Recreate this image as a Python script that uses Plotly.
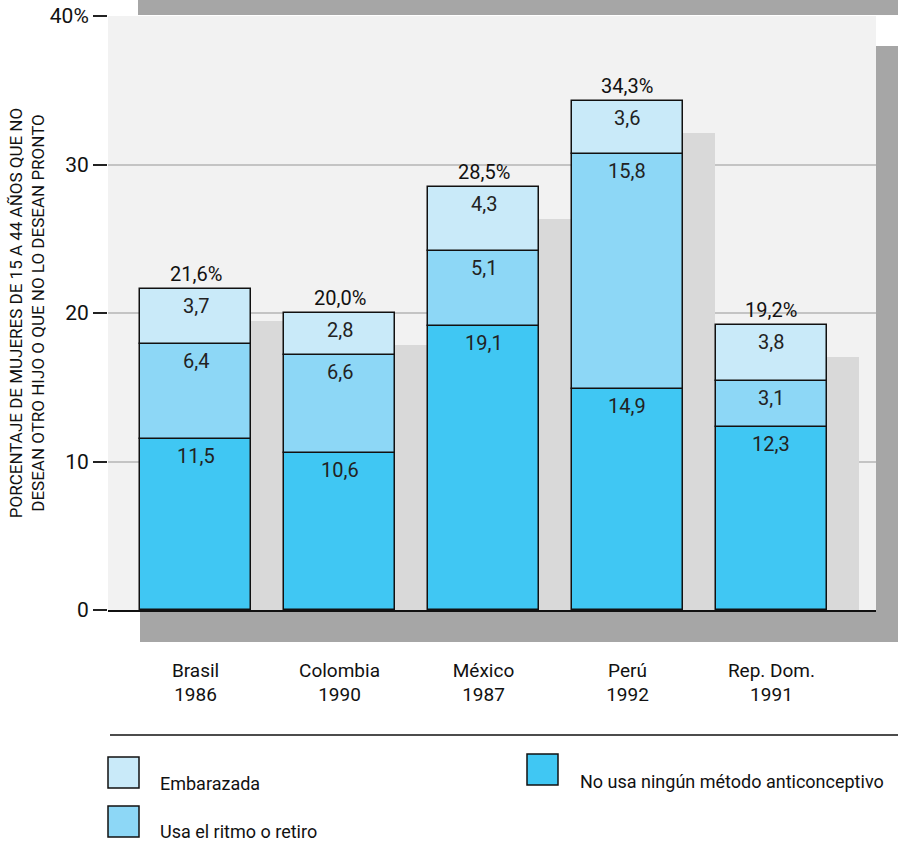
import plotly.graph_objects as go

# Data: percentage of women aged 15-44 who want no more children (or not soon)
paises = ["Brasil<br>1986", "Colombia<br>1990", "México<br>1987", "Perú<br>1992", "Rep. Dom.<br>1991"]
no_usa = [11.5, 10.6, 19.1, 14.9, 12.3]        # No usa ningún método anticonceptivo
ritmo = [6.4, 6.6, 5.1, 15.8, 3.1]             # Usa el ritmo o retiro
embarazada = [3.7, 2.8, 4.3, 3.6, 3.8]         # Embarazada
totales = [21.6, 20.0, 28.5, 34.3, 19.2]
y_ticks = [0, 10, 20, 30, 40]
y_tick_text = ["0", "10", "20", "30", "40%"]

series = [
    ("No usa ningún método anticonceptivo", no_usa, "#40c7f3"),
    ("Usa el ritmo o retiro", ritmo, "#8dd7f6"),
    ("Embarazada", embarazada, "#c9eaf9"),
]

FONT = "Roboto, Liberation Sans Narrow, sans-serif"
W, H = 898, 844
ML, MR, MT, MB = 108, 22, 16, 234
PW, PH = W - ML - MR, H - MT - MB
X0, X1 = -0.608, 4.726
Y0, Y1 = 0, 40
BAR_W = 0.771
PX_X = PW / (X1 - X0)
PX_Y = PH / (Y1 - Y0)
SHADOW_DX = 32 / PX_X
SHADOW_DY = 32 / PX_Y


def fx(px):
    return (px - ML) / PW


def fy(py):
    return (MT + PH - py) / PH


def fmt(v):
    return f"{v:.1f}".replace(".", ",")


idx = list(range(len(paises)))
fig = go.Figure()

# drop shadows behind each stacked column
fig.add_trace(go.Bar(
    x=[i + SHADOW_DX for i in idx], y=totales, base=[-SHADOW_DY] * len(idx),
    width=BAR_W, marker=dict(color="#d9d9d9", line=dict(width=0)),
    showlegend=False, hoverinfo="skip",
))

base = [0.0] * len(idx)
annotations = []
for name, vals, color in series:
    fig.add_trace(go.Bar(
        x=idx, y=vals, base=base[:], width=BAR_W, name=name,
        marker=dict(color=color, line=dict(color="#111111", width=1.5)),
        showlegend=False,
    ))
    for i, v in enumerate(vals):
        annotations.append(dict(
            x=i, y=base[i] + v, xref="x", yref="y", text=fmt(v),
            showarrow=False, yanchor="top", yshift=-3,
            font=dict(family=FONT, size=20, color="#222222"),
        ))
    base = [b + v for b, v in zip(base, vals)]

for i, t in enumerate(totales):
    annotations.append(dict(
        x=i, y=t, xref="x", yref="y", text=fmt(t) + "%",
        showarrow=False, yanchor="bottom", yshift=1,
        font=dict(family=FONT, size=20, color="#111111"),
    ))

# legend entries
legend_items = [
    ("Embarazada", "#c9eaf9", 108, 757, 158, 783),
    ("Usa el ritmo o retiro", "#8dd7f6", 108, 806, 158, 831),
    ("No usa ningún método anticonceptivo", "#40c7f3", 527, 754, 578, 781),
]
shapes = [
    # decorative frame bands around the panel
    dict(type="rect", xref="paper", yref="paper", x0=fx(138), x1=fx(898), y0=fy(15), y1=fy(0),
         fillcolor="#a6a6a6", line=dict(width=0), layer="below"),
    dict(type="rect", xref="paper", yref="paper", x0=fx(876), x1=fx(898), y0=fy(642), y1=fy(46),
         fillcolor="#a6a6a6", line=dict(width=0), layer="below"),
    dict(type="rect", xref="paper", yref="paper", x0=fx(140), x1=fx(898), y0=fy(642), y1=fy(610),
         fillcolor="#a6a6a6", line=dict(width=0), layer="below"),
    # separator line above the legend
    dict(type="line", xref="paper", yref="paper", x0=fx(110), x1=fx(898), y0=fy(735), y1=fy(735),
         line=dict(color="#111111", width=1.5)),
]
for text, color, sx, sy, tx, ty in legend_items:
    shapes.append(dict(type="rect", xref="paper", yref="paper",
                       x0=fx(sx), x1=fx(sx + 31), y0=fy(sy + 31), y1=fy(sy),
                       fillcolor=color, line=dict(color="#111111", width=1.5)))
    annotations.append(dict(x=fx(tx), y=fy(ty), xref="paper", yref="paper", text=text,
                            showarrow=False, xanchor="left", yanchor="middle",
                            font=dict(family=FONT, size=18, color="#111111")))

fig.update_layout(
    width=W, height=H,
    margin=dict(l=ML, r=MR, t=MT, b=MB),
    paper_bgcolor="white", plot_bgcolor="#f2f2f2",
    barmode="overlay", bargap=0,
    font=dict(family=FONT, size=20, color="#111111"),
    shapes=shapes, annotations=annotations,
    xaxis=dict(
        range=[X0, X1], tickvals=idx, ticktext=paises, showgrid=False, zeroline=False,
        showline=True, linecolor="#111111", linewidth=1.5, ticks="",
        ticklabelstandoff=42, tickfont=dict(family=FONT, size=19, color="#111111"),
        fixedrange=True, automargin=False,
    ),
    yaxis=dict(
        range=[Y0, Y1], tickvals=y_ticks, ticktext=y_tick_text, showgrid=True,
        gridcolor="#c4c4c4", gridwidth=2, zeroline=False, showline=False,
        ticks="outside", ticklen=14, tickwidth=1.5, tickcolor="#222222",
        tickfont=dict(family=FONT, size=21, color="#111111"),
        title=dict(text="PORCENTAJE DE MUJERES DE 15 A 44 AÑOS QUE NO<br>DESEAN OTRO HIJO O QUE NO LO DESEAN PRONTO",
                   font=dict(family=FONT, size=17, color="#111111"), standoff=0),
        fixedrange=True, automargin=False,
    ),
)

fig.write_html("out.html")
